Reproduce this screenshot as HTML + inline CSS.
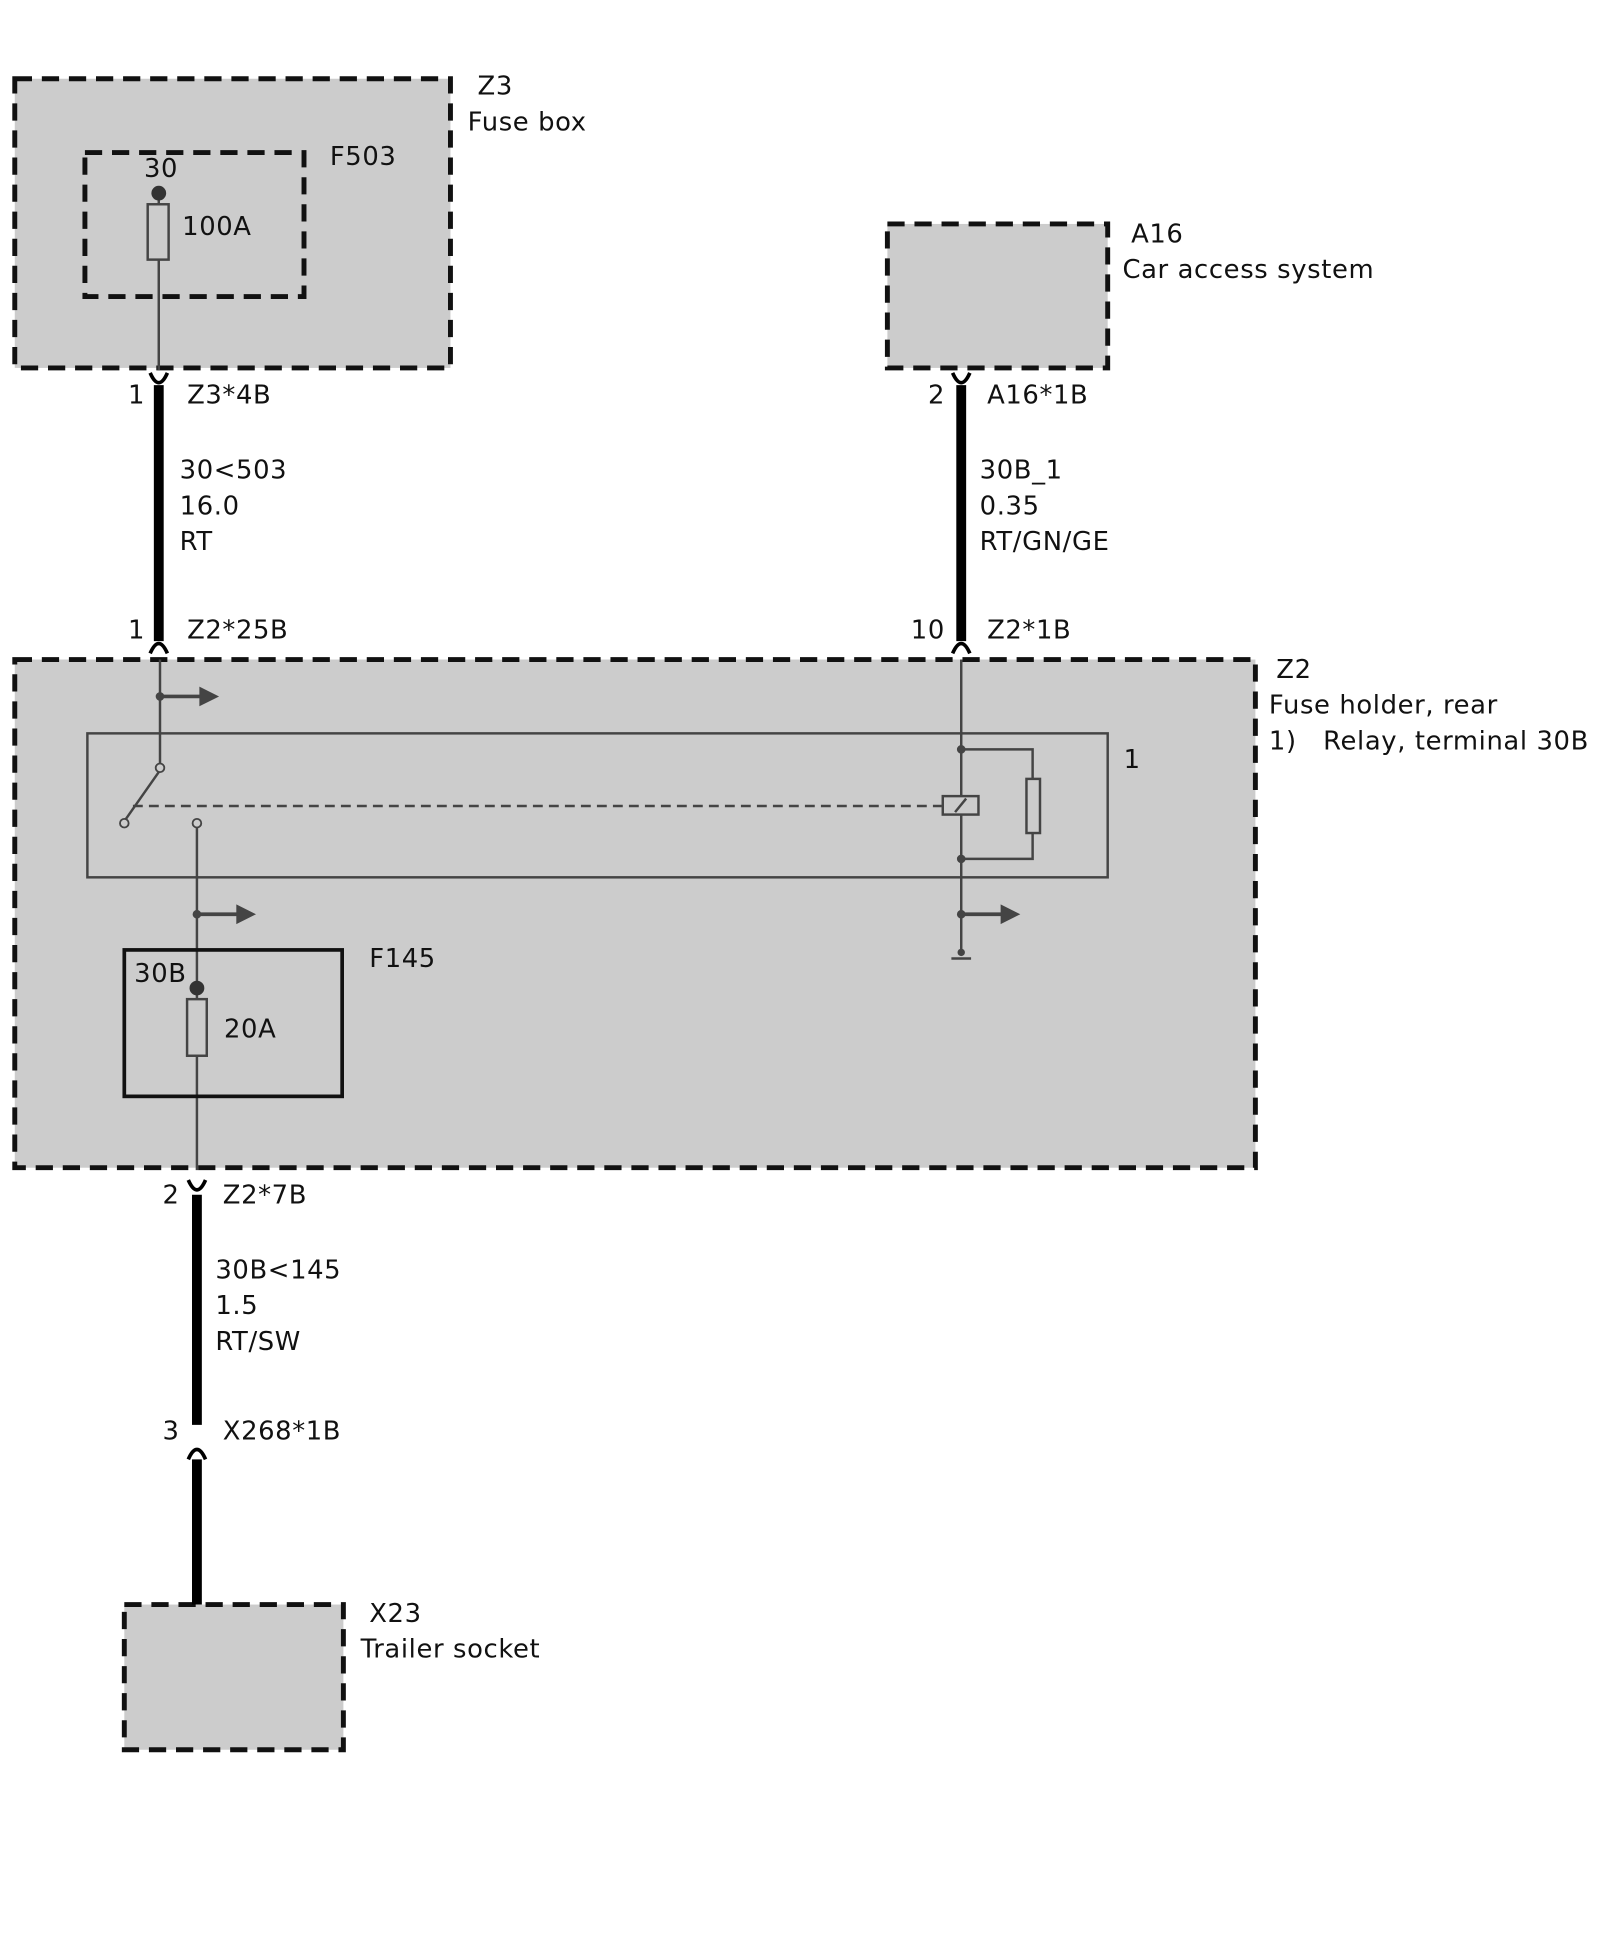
<!DOCTYPE html>
<html><head><meta charset="utf-8"><style>html,body{margin:0;padding:0;background:#fff}svg{display:block}</style></head><body>
<svg width="1600" height="1938" viewBox="0 0 1300 1575" preserveAspectRatio="none" xmlns="http://www.w3.org/2000/svg" font-family="'DejaVu Sans', 'Liberation Sans', sans-serif" font-size="21" letter-spacing="0.5" fill="#111">
<g stroke="#111" stroke-width="4" stroke-dasharray="14 8" fill="#cccccc">
<rect x="12" y="64" width="354" height="235"/>
<rect x="69" y="124" width="178" height="117"/>
<rect x="721" y="182" width="179" height="117"/>
<rect x="12" y="536" width="1008" height="413"/>
<rect x="101" y="1304" width="178" height="118"/>
</g>
<line x1="129" y1="157" x2="129" y2="301" stroke="#444" stroke-width="2"/>
<circle cx="129" cy="157" r="6" fill="#333"/>
<rect x="120" y="166" width="17" height="45" fill="#ccc" stroke="#444" stroke-width="2"/>
<g stroke="#000" stroke-width="8">
<line x1="129" y1="313" x2="129" y2="521"/>
<line x1="781" y1="313" x2="781" y2="521"/>
<line x1="160" y1="971" x2="160" y2="1158"/>
<line x1="160" y1="1186" x2="160" y2="1304"/>
</g>
<g stroke="#000" stroke-width="3" fill="none">
<path d="M122,303 Q129,319 136,303"/>
<path d="M774,303 Q781,319 788,303"/>
<path d="M122,531 Q129,515 136,531"/>
<path d="M774,531 Q781,515 788,531"/>
<path d="M153,959 Q160,975 167,959"/>
<path d="M153,1186 Q160,1170 167,1186"/>
</g>
<rect x="71" y="596" width="829" height="117" fill="none" stroke="#444" stroke-width="2"/>
<g stroke="#444" stroke-width="2" fill="none">
<line x1="130" y1="536" x2="130" y2="621"/>
<line x1="130" y1="626" x2="102" y2="666"/>
<line x1="160" y1="672" x2="160" y2="951"/>
<line x1="108" y1="655" x2="765" y2="655" stroke-dasharray="8 5"/>
<line x1="781" y1="536" x2="781" y2="776"/>
<polyline points="781,609 839,609 839,698 781,698"/>
<line x1="773" y1="779" x2="789" y2="779"/>
<line x1="130" y1="566" x2="165" y2="566" stroke-width="3"/>
<line x1="160" y1="743" x2="195" y2="743" stroke-width="3"/>
<line x1="781" y1="743" x2="816" y2="743" stroke-width="3"/>
</g>
<g fill="#444">
<polygon points="162,558 178,566 162,574"/>
<polygon points="192,735 208,743 192,751"/>
<polygon points="813,735 829,743 813,751"/>
<circle cx="130" cy="566" r="3.5"/><circle cx="160" cy="743" r="3.5"/>
<circle cx="781" cy="609" r="3.5"/><circle cx="781" cy="698" r="3.5"/><circle cx="781" cy="743" r="3.5"/><circle cx="781" cy="774" r="3"/>
</g>
<circle cx="130" cy="624" r="3.5" fill="#ccc" stroke="#444" stroke-width="1.5"/>
<circle cx="101" cy="669" r="3.5" fill="#ccc" stroke="#444" stroke-width="1.5"/>
<circle cx="160" cy="669" r="3.5" fill="#ccc" stroke="#444" stroke-width="1.5"/>
<rect x="766" y="647" width="29" height="15" fill="#ccc" stroke="#444" stroke-width="2"/>
<line x1="776" y1="660" x2="785" y2="649" stroke="#444" stroke-width="2"/>
<rect x="834" y="633" width="11" height="44" fill="#ccc" stroke="#444" stroke-width="2"/>
<rect x="101" y="772" width="177" height="119" fill="none" stroke="#111" stroke-width="3"/>
<circle cx="160" cy="803" r="6" fill="#333"/>
<rect x="152" y="812" width="16" height="46" fill="#ccc" stroke="#444" stroke-width="2"/>
<text x="388" y="77">Z3</text><text x="380" y="106">Fuse box</text>
<text x="268" y="134">F503</text><text x="117" y="144">30</text><text x="148" y="191">100A</text>
<text x="104" y="328">1</text><text x="152" y="328">Z3*4B</text>
<text x="146" y="389">30&lt;503</text><text x="146" y="418">16.0</text><text x="146" y="447">RT</text>
<text x="104" y="519">1</text><text x="152" y="519">Z2*25B</text>
<text x="919" y="197">A16</text><text x="912" y="226">Car access system</text>
<text x="754" y="328">2</text><text x="802" y="328">A16*1B</text>
<text x="796" y="389">30B_1</text><text x="796" y="418">0.35</text><text x="796" y="447">RT/GN/GE</text>
<text x="740" y="519">10</text><text x="802" y="519">Z2*1B</text>
<text x="1037" y="551">Z2</text><text x="1031" y="580">Fuse holder, rear</text><text x="1031" y="609" xml:space="preserve">1)   Relay, terminal 30B</text>
<text x="913" y="624">1</text>
<text x="109" y="798">30B</text><text x="300" y="786">F145</text><text x="182" y="843">20A</text>
<text x="132" y="978">2</text><text x="181" y="978">Z2*7B</text>
<text x="175" y="1039">30B&lt;145</text><text x="175" y="1068">1.5</text><text x="175" y="1097">RT/SW</text>
<text x="132" y="1170">3</text><text x="181" y="1170">X268*1B</text>
<text x="300" y="1318">X23</text><text x="293" y="1347">Trailer socket</text>
</svg>
</body></html>
